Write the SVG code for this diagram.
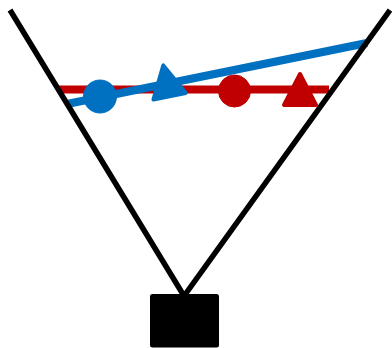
<svg xmlns="http://www.w3.org/2000/svg" width="392" height="348" viewBox="0 0 392 348">
<style>
.red{stroke:#c00000;fill:#c00000}
.blue{stroke:#0070c0;fill:#0070c0}
.ln{fill:none;stroke-width:8}
.tri{stroke-width:4;stroke-linejoin:round}
.blk{stroke:#000;stroke-width:5.5;fill:none}
</style>
<rect width="392" height="348" fill="#fff"/>
<line class="red ln" x1="58" y1="89.5" x2="329" y2="89.5"/>
<circle class="red" cx="234.5" cy="91" r="16"/>
<polygon class="red tri" points="300,74 284,105 316,105"/>
<line class="blue ln" x1="67" y1="104" x2="367" y2="43"/>
<circle class="blue" cx="100" cy="96.5" r="16.5"/>
<polygon class="blue tri" points="0,-21 -16.5,10.5 16.5,10.5" transform="translate(167.5,86) rotate(-11.5)"/>
<polyline class="blk" points="10,10 184,296 390,10"/>
<rect x="150" y="294" width="69" height="53.5" rx="2.5" fill="#000"/>
</svg>
